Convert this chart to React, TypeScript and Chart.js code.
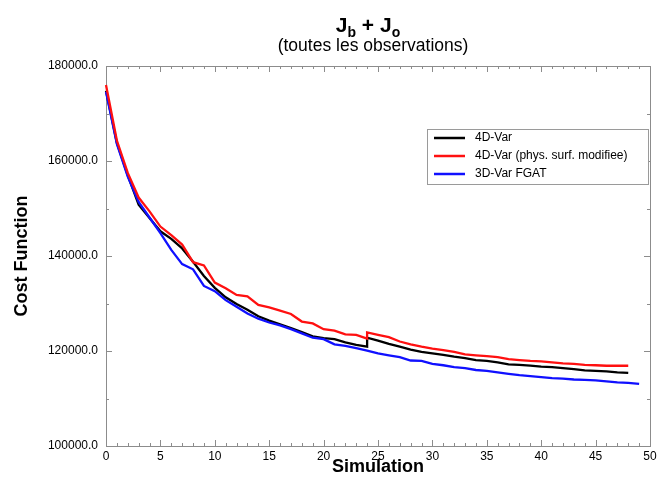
import React, { useEffect, useRef } from "react";
import { Chart, registerables } from "chart.js";

Chart.register(...registerables);

// ---- data ----
const X_WITH_RESTART = [0,1,2,3,4,5,6,7,8,9,10,11,12,13,14,15,16,17,18,19,20,21,22,23,24,24,25,26,27,28,29,30,31,32,33,34,35,36,37,38,39,40,41,42,43,44,45,46,47,48];
const X_3DVAR = [0,1,2,3,4,5,6,7,8,9,10,11,12,13,14,15,16,17,18,19,20,21,22,23,24,25,26,27,28,29,30,31,32,33,34,35,36,37,38,39,40,41,42,43,44,45,46,47,48,49];

const COST_4DVAR = [174800,163800,157000,150800,148000,145200,143600,141600,138800,135800,133300,131300,129900,128700,127300,126400,125600,124800,124000,123100,122700,122500,121800,121300,120900,122800,122200,121500,120900,120300,119800,119500,119200,118800,118500,118100,117900,117600,117200,117100,116900,116700,116600,116400,116200,115900,115800,115700,115500,115400];
const COST_4DVAR_PHYS = [176000,164300,157500,152300,149400,146200,144400,142400,138700,138000,134400,133200,131800,131500,129700,129200,128500,127800,126200,125800,124600,124300,123500,123400,122600,123900,123400,122900,122000,121400,120900,120500,120200,119800,119300,119100,118900,118700,118300,118100,117900,117800,117600,117400,117300,117100,117000,116900,116900,116900];
const COST_3DVAR = [174600,163600,156700,151400,148100,144800,141300,138300,137200,133700,132600,130700,129300,127900,126800,126000,125400,124600,123700,122800,122500,121400,121100,120600,120100,119500,119100,118700,118000,117900,117300,117000,116600,116400,116000,115800,115500,115200,114900,114700,114500,114300,114200,114000,113900,113800,113600,113400,113300,113100];

const SERIES_LABELS = ["4D-Var", "4D-Var (phys. surf. modifiee)", "3D-Var FGAT"];
const SERIES_COLORS = ["#000000", "#ff1010", "#1010ff"];

const X_MIN = 0, X_MAX = 50, X_MAJOR = 5, X_MINOR = 1;
const Y_MIN = 100000, Y_MAX = 180000, Y_MAJOR = 20000, Y_MINOR = 10000;

const TITLE_MAIN = ["J", "b", " + ", "J", "o"];
const SUBTITLE = "(toutes les observations)";
const X_TITLE = "Simulation";
const Y_TITLE = "Cost Function";

const FONT = "'Liberation Sans', Arial, Helvetica, sans-serif";

const toPoints = (xs: number[], ys: number[]) => xs.map((x, i) => ({ x, y: ys[i] }));

const frameTicks = {
  id: "frameTicks",
  beforeDatasetsDraw(chart: any) {
    const { ctx, chartArea, scales } = chart;
    const { left, right, top, bottom } = chartArea;
    const x = scales.x, y = scales.y;
    ctx.save();
    ctx.strokeStyle = "#8c8c8c";
    ctx.lineWidth = 1;
    ctx.strokeRect(Math.round(left) + 0.5, Math.round(top) + 0.5, Math.round(right - left), Math.round(bottom - top));
    ctx.beginPath();
    for (let v = X_MIN; v <= X_MAX + 1e-9; v += X_MINOR) {
      const px = Math.round(x.getPixelForValue(v)) + 0.5;
      const len = v % X_MAJOR === 0 ? 6 : 3;
      ctx.moveTo(px, bottom); ctx.lineTo(px, bottom - len);
      ctx.moveTo(px, top); ctx.lineTo(px, top + len);
    }
    for (let v = Y_MIN; v <= Y_MAX + 1e-9; v += Y_MINOR) {
      const py = Math.round(y.getPixelForValue(v)) + 0.5;
      const len = v % Y_MAJOR === 0 ? 6 : 3;
      ctx.moveTo(left, py); ctx.lineTo(left + len, py);
      ctx.moveTo(right, py); ctx.lineTo(right - len, py);
    }
    ctx.stroke();
    ctx.restore();
  },
};

const customLegend = {
  id: "customLegend",
  afterDraw(chart: any) {
    const { ctx, chartArea } = chart;
    const bx = chartArea.right - 223;
    const by = chartArea.top + 63;
    const bw = 221, bh = 55;
    ctx.save();
    ctx.fillStyle = "#ffffff";
    ctx.fillRect(bx, by, bw, bh);
    ctx.strokeStyle = "#9a9a9a";
    ctx.lineWidth = 1;
    ctx.strokeRect(bx + 0.5, by + 0.5, bw, bh);
    ctx.font = `12px ${FONT}`;
    ctx.textBaseline = "middle";
    ctx.textAlign = "left";
    chart.data.datasets.forEach((ds: any, i: number) => {
      const ry = by + 9 + i * 18;
      ctx.strokeStyle = ds.borderColor;
      ctx.lineWidth = 2.5;
      ctx.beginPath();
      ctx.moveTo(bx + 7, ry);
      ctx.lineTo(bx + 38, ry);
      ctx.stroke();
      ctx.fillStyle = "#000";
      ctx.fillText(ds.label, bx + 48, ry);
    });
    ctx.restore();
  },
};

const titlePlugin = {
  id: "titlePlugin",
  afterDraw(chart: any) {
    const { ctx } = chart;
    ctx.save();
    ctx.fillStyle = "#000";
    ctx.textBaseline = "alphabetic";
    ctx.textAlign = "left";
    const big = `bold 21px ${FONT}`;
    const small = `bold 14px ${FONT}`;
    const parts = TITLE_MAIN.map((t, i) => ({ t, sub: i === 1 || i === 4 }));
    let total = 0;
    parts.forEach((p) => { ctx.font = p.sub ? small : big; total += ctx.measureText(p.t).width; });
    let cx = 368 - total / 2;
    const base = 32;
    parts.forEach((p) => {
      ctx.font = p.sub ? small : big;
      ctx.fillText(p.t, cx, p.sub ? base + 5 : base);
      cx += ctx.measureText(p.t).width;
    });
    ctx.font = `17.5px ${FONT}`;
    ctx.textAlign = "center";
    ctx.textBaseline = "middle";
    ctx.fillText(SUBTITLE, 373, 46);
    ctx.restore();
  },
};

export default function App() {
  const ref = useRef<HTMLCanvasElement | null>(null);
  useEffect(() => {
    if (!ref.current) return;
    const mk = (label: string, color: string, data: any[], order: number) => ({
      label, data, borderColor: color, backgroundColor: color, borderWidth: 2.3,
      pointRadius: 0, tension: 0, fill: false, order, clip: 3,
    });
    const chart = new Chart(ref.current, {
      type: "line",
      data: {
        datasets: [
          mk(SERIES_LABELS[0], SERIES_COLORS[0], toPoints(X_WITH_RESTART, COST_4DVAR), 2),
          mk(SERIES_LABELS[1], SERIES_COLORS[1], toPoints(X_WITH_RESTART, COST_4DVAR_PHYS), 0),
          mk(SERIES_LABELS[2], SERIES_COLORS[2], toPoints(X_3DVAR, COST_3DVAR), 1),
        ],
      },
      options: {
        responsive: false,
        animation: false,
        layout: { padding: { left: 0, top: 66, right: 7, bottom: 0 } },
        plugins: { legend: { display: false }, title: { display: false }, tooltip: { enabled: false } },
        scales: {
          x: {
            type: "linear", min: X_MIN, max: X_MAX,
            grid: { display: false, drawTicks: false }, border: { display: false },
            ticks: { stepSize: X_MAJOR, color: "#000", font: { family: FONT, size: 12 }, padding: 3, maxRotation: 0 },
            title: { display: true, text: X_TITLE, color: "#000", font: { family: FONT, size: 18, weight: "bold" }, padding: { top: 0, bottom: 2 } },
            afterFit: (s: any) => { s.height = 34; s.paddingLeft = 0; s.paddingRight = 0; },
          },
          y: {
            type: "linear", min: Y_MIN, max: Y_MAX,
            grid: { display: false, drawTicks: false }, border: { display: false },
            ticks: { stepSize: Y_MAJOR, color: "#000", font: { family: FONT, size: 12 }, padding: 8, callback: (v: any) => Number(v).toFixed(1) },
            title: { display: true, text: Y_TITLE, color: "#000", font: { family: FONT, size: 18, weight: "bold" }, padding: { top: 11, bottom: 0 } },
            afterFit: (s: any) => { s.width = 106; s.paddingTop = 0; s.paddingBottom = 0; },
          },
        },
      },
      plugins: [frameTicks, customLegend, titlePlugin],
    } as any);
    return () => chart.destroy();
  }, []);
  return (
    <div style={{ position: "fixed", left: 0, top: 0, width: 657, height: 480, background: "#fff" }}>
      <canvas ref={ref} width={657} height={480} style={{ width: 657, height: 480, display: "block" }} />
    </div>
  );
}
